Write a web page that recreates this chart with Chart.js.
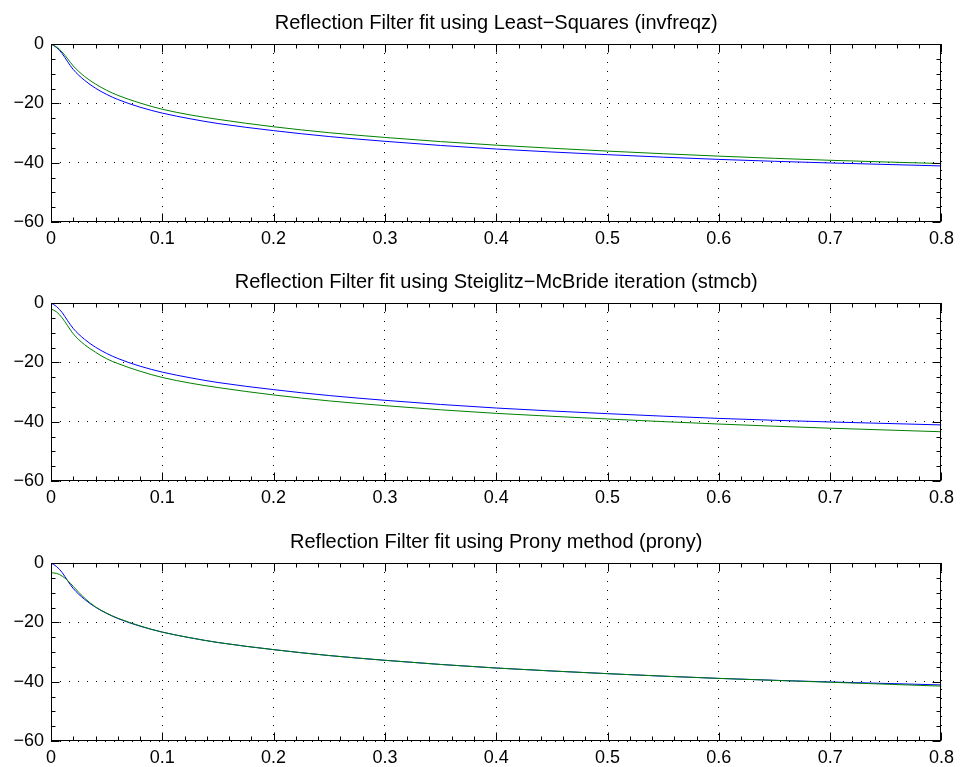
<!DOCTYPE html>
<html>
<head>
<meta charset="utf-8">
<script src="https://cdn.jsdelivr.net/npm/chart.js@4.4.1/dist/chart.umd.min.js"></script>
<style>
  html, body { margin: 0; padding: 0; background: #fff; overflow: hidden; }
  #wrap { position: relative; width: 960px; height: 767px; }
  canvas { position: absolute; left: 0; }
</style>
</head>
<body>
<div id="wrap">
  <canvas id="c0" width="960" height="260" style="top:0px"></canvas>
  <canvas id="c1" width="960" height="260" style="top:259px"></canvas>
  <canvas id="c2" width="960" height="260" style="top:519px"></canvas>
</div>
<script>
// normalized frequency samples
const freq = [0, 0.005, 0.01, 0.015, 0.02, 0.03, 0.04, 0.05, 0.06, 0.08, 0.1, 0.125, 0.15, 0.2, 0.25, 0.3, 0.35, 0.4, 0.5, 0.6, 0.7, 0.8];

// desired reflection response (blue, same in each panel), dB
const target = [0, -1.2, -3.2, -6.0, -8.6, -12.2, -14.9, -17.0, -18.7, -21.3, -23.3, -25.2, -26.8, -29.2, -31.2, -32.8, -34.2, -35.4, -37.3, -38.9, -40.1, -41.1];
// fitted responses (green), dB
const invfreqzFit = [0, -1.0, -2.7, -5.0, -7.4, -10.9, -13.5, -15.6, -17.3, -19.9, -22.0, -23.9, -25.4, -27.9, -29.9, -31.5, -32.9, -34.1, -36.1, -37.8, -39.2, -40.3];
const stmcbFit = [-2.0, -3.0, -5.0, -7.7, -10.4, -14.0, -16.6, -18.8, -20.4, -23.0, -25.1, -27.0, -28.5, -31.0, -33.0, -34.6, -36.0, -37.2, -39.1, -40.8, -42.2, -43.4];
const pronyFit = [-3.3, -3.5, -4.4, -5.9, -7.9, -11.8, -14.8, -16.9, -18.6, -21.2, -23.3, -25.2, -26.8, -29.2, -31.2, -32.8, -34.2, -35.4, -37.3, -38.9, -40.2, -41.5];

const titles = [
  "Reflection Filter fit using Least\u2212Squares (invfreqz)",
  "Reflection Filter fit using Steiglitz\u2212McBride iteration (stmcb)",
  "Reflection Filter fit using Prony method (prony)"
];
const fits = [invfreqzFit, stmcbFit, pronyFit];

const xTicks = [0, 0.1, 0.2, 0.3, 0.4, 0.5, 0.6, 0.7, 0.8];
const xTickLabels = ["0", "0.1", "0.2", "0.3", "0.4", "0.5", "0.6", "0.7", "0.8"];
const yTicks = [-60, -40, -20, 0];
const yTickLabels = ["\u221260", "\u221240", "\u221220", "0"];
const xMinor = [0.02, 0.04, 0.06, 0.08];
const yMinor = [-15, -10, -5];

const FONT = "'Liberation Sans', Arial, Helvetica, sans-serif";

const pts = (ys) => freq.map((f, i) => ({ x: f, y: ys[i] }));

// matlab style box with inward ticks, title centred over the axes
const boxTicks = {
  id: "boxTicks",
  afterDraw(chart, args, opts) {
    const { ctx, chartArea: a, scales } = chart;
    const sx = scales.x, sy = scales.y;
    const L = Math.round(a.left) + 0.5, R = Math.round(a.right) - 0.5;
    const T = Math.round(a.top) + 0.5, B = Math.round(a.bottom) - 0.5;
    ctx.save();
    ctx.strokeStyle = "#000";
    ctx.lineWidth = 1;
    ctx.beginPath();
    xTicks.forEach((v) => {
      const p = Math.round(sx.getPixelForValue(v)) + 0.5;
      ctx.moveTo(p, B); ctx.lineTo(p, B - 8);
      ctx.moveTo(p, T); ctx.lineTo(p, T + 8);
      for (const m of xMinor) {
        if (v + m >= 0.8) continue;
        const q = Math.round(sx.getPixelForValue(v + m)) + 0.5;
        ctx.moveTo(q, B); ctx.lineTo(q, B - 4);
        ctx.moveTo(q, T); ctx.lineTo(q, T + 4);
      }
    });
    yTicks.forEach((v) => {
      const p = Math.round(sy.getPixelForValue(v)) + 0.5;
      ctx.moveTo(L, p); ctx.lineTo(L + 8, p);
      ctx.moveTo(R, p); ctx.lineTo(R - 8, p);
      for (const m of yMinor) {
        if (v + m <= -60) continue;
        const q = Math.round(sy.getPixelForValue(v + m)) + 0.5;
        ctx.moveTo(L, q); ctx.lineTo(L + 4, q);
        ctx.moveTo(R, q); ctx.lineTo(R - 4, q);
      }
    });
    ctx.stroke();
    ctx.strokeRect(L, T, R - L, B - T);

    ctx.fillStyle = "#000";
    ctx.font = "20px " + FONT;
    ctx.textAlign = "center";
    ctx.textBaseline = "middle";
    ctx.fillText(opts.text, (a.left + a.right) / 2, 23);
    ctx.restore();
  }
};

function makePanel(id, title, fit) {
  return new Chart(document.getElementById(id), {
    type: "line",
    data: {
      datasets: [
        { data: pts(fit), borderColor: "#008000", borderWidth: 1, pointRadius: 0, order: 0, cubicInterpolationMode: "monotone" },
        { data: pts(target), borderColor: "#0000ff", borderWidth: 1, pointRadius: 0, order: 1, cubicInterpolationMode: "monotone" }
      ]
    },
    options: {
      responsive: false,
      animation: false,
      layout: { padding: { left: 0, right: 16, top: 44, bottom: 0 } },
      scales: {
        x: {
          type: "linear",
          min: 0,
          max: 0.8,
          afterBuildTicks: (s) => { s.ticks = xTicks.map((v) => ({ value: v })); },
          afterFit: (s) => { s.height = 38; },
          ticks: {
            callback: (v, i) => xTickLabels[i],
            color: "#000",
            padding: 6,
            maxRotation: 0,
            font: { family: FONT, size: 18 }
          },
          grid: { color: "#000", lineWidth: 1, drawTicks: false },
          border: { display: false, dash: [1, 8] }
        },
        y: {
          type: "linear",
          min: -60,
          max: 0,
          afterBuildTicks: (s) => { s.ticks = yTicks.map((v) => ({ value: v })); },
          afterFit: (s) => { s.width = 51; },
          ticks: {
            callback: (v, i) => yTickLabels[i],
            color: "#000",
            padding: 7,
            font: { family: FONT, size: 18 }
          },
          grid: { color: "#000", lineWidth: 1, drawTicks: false },
          border: { display: false, dash: [1, 8] }
        }
      },
      plugins: {
        legend: { display: false },
        tooltip: { enabled: false },
        title: { display: false },
        boxTicks: { text: title }
      }
    },
    plugins: [boxTicks]
  });
}

titles.forEach((t, i) => makePanel("c" + i, t, fits[i]));
</script>
</body>
</html>
